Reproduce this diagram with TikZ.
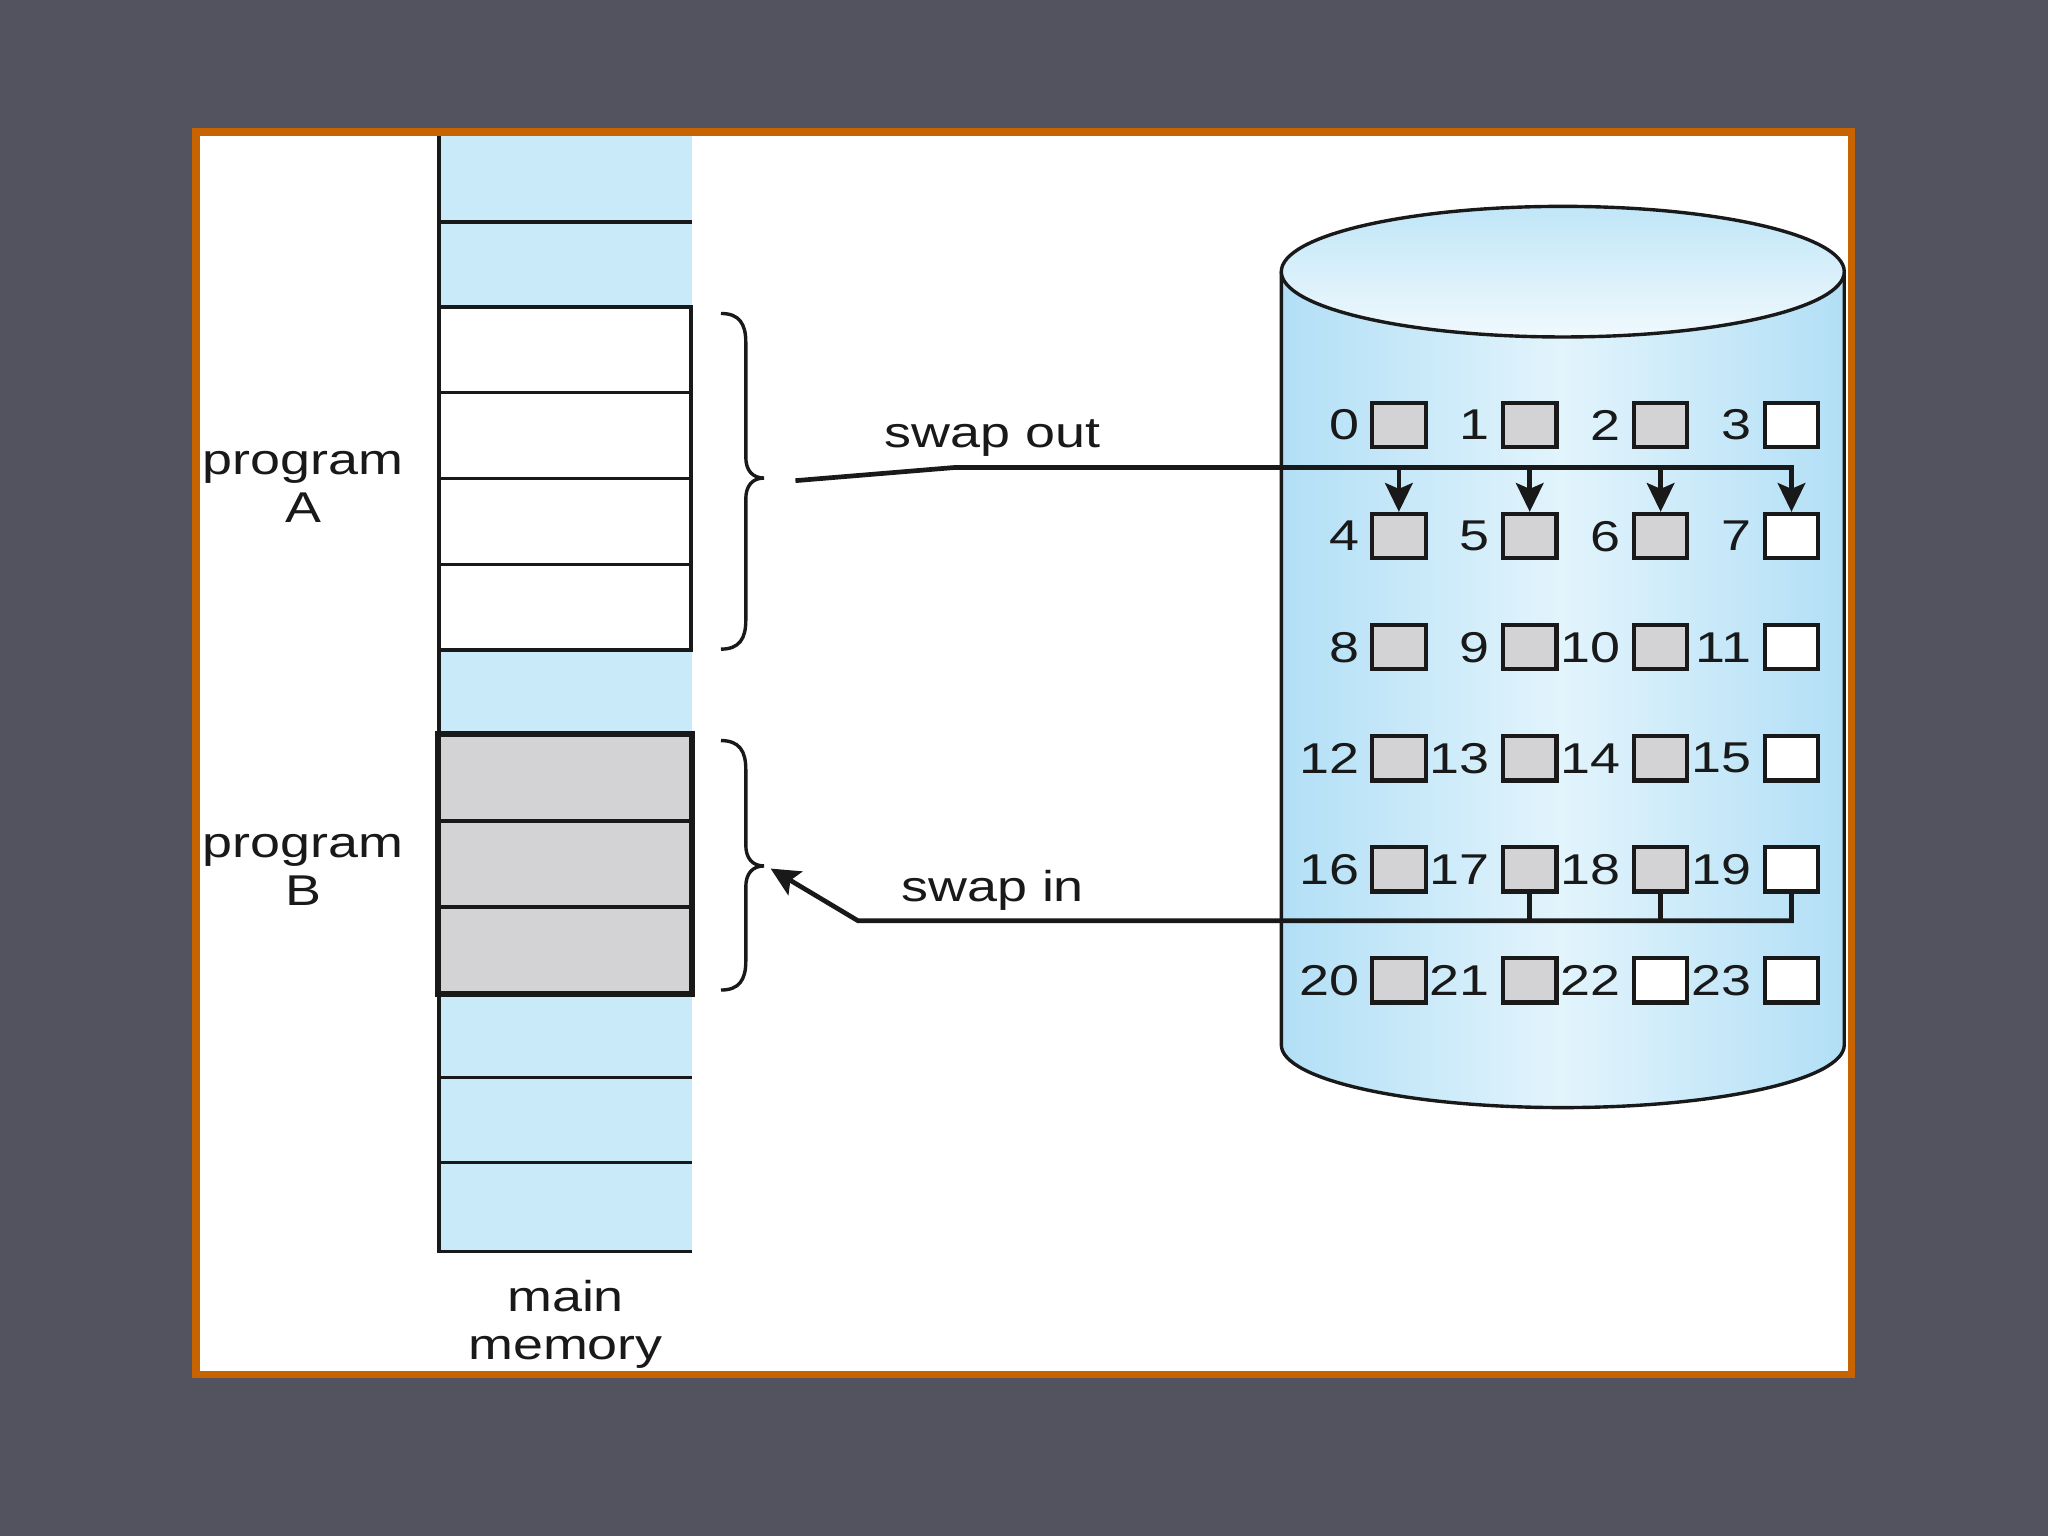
\documentclass[tikz,border=0pt]{standalone}
\usepackage{fontspec}
\setmainfont{Liberation Sans}[FakeStretch=1.25]
\usetikzlibrary{arrows.meta}
\definecolor{bgslate}{RGB}{83,83,96}
\definecolor{frameorange}{RGB}{200,100,0}
\definecolor{memblue}{RGB}{200,234,249}
\definecolor{blockgray}{RGB}{211,211,214}
\definecolor{diskedge}{RGB}{178,223,246}
\definecolor{diskmid}{RGB}{226,244,252}
\definecolor{topone}{RGB}{192,230,248}
\definecolor{toptwo}{RGB}{240,249,253}
\definecolor{inkc}{RGB}{25,25,25}
\begin{document}
\begin{tikzpicture}[x=0.5pt,y=-0.5pt,
  txt/.style={font=\fontsize{16.5}{18.5}\selectfont, text=inkc, inner sep=0pt},
  blk/.style={draw=inkc, line width=1.6pt, minimum width=20.5pt, minimum height=17pt, inner sep=0pt},
  gblk/.style={blk, fill=blockgray},
  wblk/.style={blk, fill=white},
  memblk/.style={draw=inkc, line width=1.3pt, minimum width=96.5pt, minimum height=32.85pt, inner sep=0pt},
  conn/.style={draw=inkc, line width=1.8pt},
  tip/.style={-{Stealth[length=11pt,width=10.5pt,inset=2.2pt]}},
  memline/.style={draw=inkc, line width=1.3pt},
  bracepath/.style={draw=inkc, line width=1.3pt}
]
\useasboundingbox (0,0) rectangle (1568,1176);
\fill[bgslate] (0,0) rectangle (1568,1176);
\fill[frameorange] (147,98) rectangle (1420,1055);
\fill[white] (153,104) rectangle (1415,1050);

% main memory column
\fill[memblue] (336,104) rectangle (530,958);
\draw[memline] (336,104) -- (336,958) -- (530,958);
\draw[memline] (336,170) -- (530,170);
\draw[memline] (336,825) -- (530,825);
\draw[memline] (336,890) -- (530,890);

\node[memblk, fill=white] (A1) at (432.5,267.85) {};
\node[memblk, fill=white] (A2) at (432.5,333.55) {};
\node[memblk, fill=white] (A3) at (432.5,399.25) {};
\node[memblk, fill=white] (A4) at (432.5,464.95) {};

\node[memblk, fill=blockgray] (B1) at (432.5,595.85) {};
\node[memblk, fill=blockgray] (B2) at (432.5,661.55) {};
\node[memblk, fill=blockgray] (B3) at (432.5,727.25) {};
\draw[inkc, line width=1.9pt] (B1.north west) rectangle (B3.south east);

% braces
\coordinate (braceAtip) at (585,366);
\coordinate (braceBtip) at (585,663);
\draw[bracepath] (552,240) .. controls (566,240) and (571,248) .. (571,262) -- (571,350)
  .. controls (571,360) and (576,366) .. (braceAtip)
  .. controls (576,366) and (571,372) .. (571,382) -- (571,475)
  .. controls (571,489) and (566,497) .. (552,497);
\draw[bracepath] (552,567) .. controls (566,567) and (571,575) .. (571,589) -- (571,647)
  .. controls (571,657) and (576,663) .. (braceBtip)
  .. controls (576,663) and (571,669) .. (571,679) -- (571,736)
  .. controls (571,750) and (566,758) .. (552,758);

% labels
\node[txt, align=center] (progA) at (232,373) {program\\A};
\node[txt, align=center] (progB) at (232,666) {program\\B};
\node[txt, align=center] (mainmem) at (433,1014) {main\\memory};

% disk
\shade[left color=diskedge, right color=diskedge, middle color=diskmid]
  (981,208) -- (981,800) .. controls (981,826.5) and (1077.5,848) .. (1196.5,848)
  .. controls (1315.5,848) and (1412,826.5) .. (1412,800) -- (1412,208) -- cycle;
\draw[inkc, line width=1.3pt]
  (981,208) -- (981,800) .. controls (981,826.5) and (1077.5,848) .. (1196.5,848)
  .. controls (1315.5,848) and (1412,826.5) .. (1412,800) -- (1412,208);
\path[top color=topone, bottom color=toptwo, draw=inkc, line width=1.3pt]
  (1196.5,208) ellipse [x radius=215.5, y radius=50];

% disk blocks
\foreach \n/\c/\r/\s in {0/0/0/gblk,1/1/0/gblk,2/2/0/gblk,3/3/0/wblk,
  4/0/1/gblk,5/1/1/gblk,6/2/1/gblk,7/3/1/wblk,
  8/0/2/gblk,9/1/2/gblk,10/2/2/gblk,11/3/2/wblk,
  12/0/3/gblk,13/1/3/gblk,14/2/3/gblk,15/3/3/wblk,
  16/0/4/gblk,17/1/4/gblk,18/2/4/gblk,19/3/4/wblk,
  20/0/5/gblk,21/1/5/gblk,22/2/5/wblk,23/3/5/wblk}{
  \node[\s] (b\n) at ({1071+100.2*\c},{325.5+85*\r}) {};
  \node[txt, anchor=east] (l\n) at ([xshift=-4pt]b\n.west) {\n};
}

% swap out
\coordinate (sostart) at (609,368);
\coordinate (sobend) at (730,358);
\draw[conn, tip] (sostart) -- (sobend) -| (b7.north);
\foreach \k in {4,5,6} \draw[conn, tip] (b\k.north |- sobend) -- (b\k.north);
\node[txt] (swapout) at (760,335) {swap out};

% swap in
\coordinate (sibend) at (657,705);
\coordinate (sitip) at (590,665);
\draw[conn, tip] (b19.south) |- (sibend) -- (sitip);
\foreach \k in {17,18} \draw[conn] (b\k.south) -- (b\k.south |- sibend);
\node[txt] (swapin) at (760,682) {swap in};
\end{tikzpicture}
\end{document}
